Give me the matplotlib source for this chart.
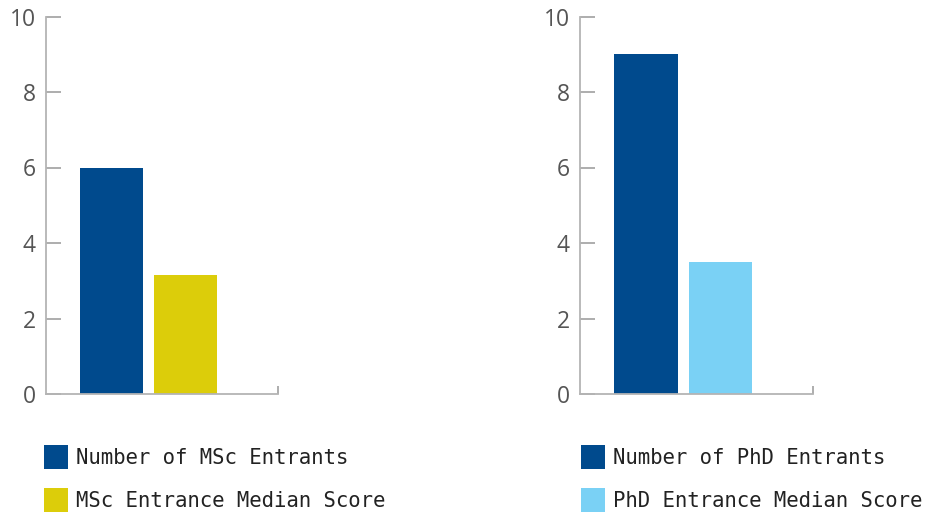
import matplotlib.pyplot as plt

# values
msc_labels = ['Number of MSc Entrants', 'MSc Entrance Median Score']
msc_values = [6.0, 3.15]
phd_labels = ['Number of PhD Entrants', 'PhD Entrance Median Score']
phd_values = [9.0, 3.5]
y_ticks = [0, 2, 4, 6, 8, 10]

msc_colors = ['#004a8d', '#dccd0a']
phd_colors = ['#004a8d', '#7ad1f5']

W, H = 930, 515
fig = plt.figure(figsize=(W / 100, H / 100), dpi=100)

XMIN, XMAX = -0.885, 2.24


def draw_panel(left_px, width_px, labels, values, colors, leg_x_px):
    ax = fig.add_axes([left_px / W, (H - 394) / H, width_px / W, 377.5 / H])
    bars = ax.bar(range(len(values)), values, width=0.85, color=colors)
    ax.set_xlim(XMIN, XMAX)
    ax.set_ylim(0, 10)
    ax.set_yticks(y_ticks)
    ax.set_yticklabels([str(t) for t in y_ticks], family='Open Sans',
                       fontsize=16.5, color='#555555')
    ax.tick_params(axis='y', direction='in', length=10.5, width=1.2,
                   color='#a0a0a0', pad=7.5)
    ax.set_xticks([XMAX])
    ax.set_xticklabels([''])
    ax.tick_params(axis='x', direction='in', length=6, width=1.2, color='#a0a0a0')
    for s in ['top', 'right']:
        ax.spines[s].set_visible(False)
    for s in ['left', 'bottom']:
        ax.spines[s].set_color('#b4b4b4')
        ax.spines[s].set_linewidth(1.3)
    leg = ax.legend(bars, labels, loc='upper left',
                    bbox_to_anchor=(leg_x_px / W, (H - 445) / H),
                    bbox_transform=fig.transFigure, frameon=False,
                    prop={'family': 'DejaVu Sans Mono', 'size': 14.9},
                    handlelength=1.17, handleheight=1.41, handletextpad=0.38,
                    labelspacing=0.92, borderpad=0, borderaxespad=0)
    for t in leg.get_texts():
        t.set_color('#222222')
    return ax


draw_panel(46, 232, msc_labels, msc_values, msc_colors, 44)
draw_panel(580, 233, phd_labels, phd_values, phd_colors, 581)

fig.savefig('out.png', dpi=100)
